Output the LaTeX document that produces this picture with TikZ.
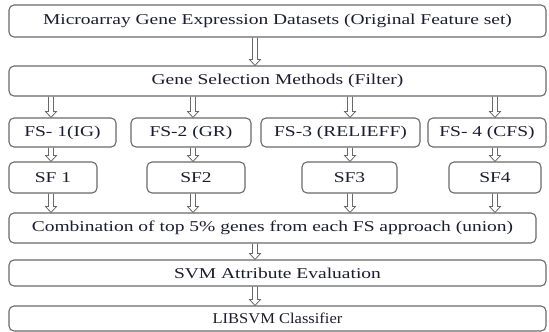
\documentclass[tikz,border=0pt]{standalone}
\usepackage{fontspec}
\setmainfont{Liberation Serif}[FakeStretch=1.3]
\newfontfamily\narrowserif{Liberation Serif}[FakeStretch=1.1]
\usetikzlibrary{calc}
\definecolor{edge}{RGB}{105,105,105}
\definecolor{ink}{RGB}{28,28,48}
\begin{document}
\begin{tikzpicture}[x=1pt,y=1pt,
  box/.style={draw=edge, line width=1.1pt, rounded corners=5pt, inner sep=0pt,
    text=ink, font=\fontsize{15}{17}\selectfont},
  hollow/.style={draw=edge, line width=0.8pt,
    to path={let \p1=(\tikztostart), \p2=(\tikztotarget) in
      (\x1-2.5,\y1) -- (\x1-2.5,\y2+6) -- (\x1-5.5,\y2+6) -- (\x1,\y2)
      -- (\x1+5.5,\y2+6) -- (\x1+2.5,\y2+6) -- (\x1+2.5,\y1)}}]
\useasboundingbox (0,0) rectangle (549,-332);
\node[box, minimum width=537, minimum height=32] (m1) at (277.5,-21) {Microarray Gene Expression Datasets (Original Feature set)};
\node[box, minimum width=537, minimum height=30] (m2) at (277.5,-81) {Gene Selection Methods (Filter)};
\node[box, minimum width=107, minimum height=29] (fs1) at (62.5,-132.5) {FS- 1(IG)\hspace{18pt}};
\node[box, minimum width=120, minimum height=29] (fs2) at (191,-132.5) {FS-2 (GR)\hspace{12pt}};
\node[box, minimum width=159, minimum height=29] (fs3) at (340.5,-132.5) {FS-3 (RELIEFF)};
\node[box, minimum width=118, minimum height=29] (fs4) at (487,-132.5) {FS- 4 (CFS)};
\node[box, minimum width=88, minimum height=31] (sf1) at (53,-177.5) {SF 1};
\node[box, minimum width=98, minimum height=31] (sf2) at (196,-177.5) {SF2};
\node[box, minimum width=95, minimum height=31] (sf3) at (349.5,-177.5) {SF3};
\node[box, minimum width=92, minimum height=31] (sf4) at (495,-177.5) {SF4};
\node[box, minimum width=527, minimum height=30] (comb) at (272.5,-228) {Combination of top 5\% genes from each FS approach (union)};
\node[box, minimum width=537, minimum height=26] (svm) at (277.5,-273) {SVM Attribute Evaluation};
\node[box, minimum width=537, minimum height=25, font=\narrowserif\fontsize{15}{17}\selectfont] (lib) at (277.5,-318.5) {LIBSVM Classifier};
\coordinate (c0) at (255,0);
\coordinate (c1) at (51,0);
\coordinate (c2) at (193,0);
\coordinate (c3) at (350,0);
\coordinate (c4) at (495,0);
\draw[hollow] (m1.south -| c0) to (m2.north -| c0);
\draw[hollow] (m2.south -| c1) to (fs1.north -| c1);
\draw[hollow] (m2.south -| c2) to (fs2.north -| c2);
\draw[hollow] (m2.south -| c3) to (fs3.north -| c3);
\draw[hollow] (m2.south -| c4) to (fs4.north -| c4);
\draw[hollow] (fs1.south -| c1) to (sf1.north -| c1);
\draw[hollow] (fs2.south -| c2) to (sf2.north -| c2);
\draw[hollow] (fs3.south -| c3) to (sf3.north -| c3);
\draw[hollow] (fs4.south -| c4) to (sf4.north -| c4);
\draw[hollow] (sf1.south -| c1) to (comb.north -| c1);
\draw[hollow] (sf2.south -| c2) to (comb.north -| c2);
\draw[hollow] (sf3.south -| c3) to (comb.north -| c3);
\draw[hollow] (sf4.south -| c4) to (comb.north -| c4);
\draw[hollow] (comb.south -| c0) to (svm.north -| c0);
\draw[hollow] (svm.south -| c0) to (lib.north -| c0);
\end{tikzpicture}
\end{document}
